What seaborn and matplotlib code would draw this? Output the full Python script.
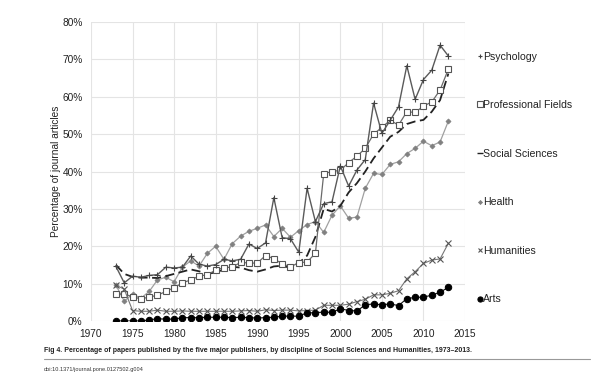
import numpy as np
import pandas as pd
import matplotlib
matplotlib.use("Agg")
import matplotlib.pyplot as plt
import seaborn as sns
from matplotlib.lines import Line2D
from matplotlib.ticker import PercentFormatter, MultipleLocator

sns.set_theme(style="whitegrid")
plt.rcParams["font.family"] = ["Liberation Sans", "DejaVu Sans"]

# ---------------------------------------------------------------------------
# data (% of journal articles)
# ---------------------------------------------------------------------------
years = list(range(1973, 2014))

psychology = [14.6, 10.2, 12.0, 11.7, 12.2, 12.4, 14.4, 14.2, 14.4, 17.4,
              15.2, 14.7, 15.1, 16.5, 16.1, 16.5, 20.6, 19.4, 20.9, 33.0,
              22.3, 22.0, 18.4, 35.5, 26.6, 31.4, 31.9, 41.5, 36.1, 40.4,
              43.2, 58.3, 50.2, 53.7, 57.3, 68.3, 59.3, 64.6, 67.1, 73.8,
              70.9]
professional = [7.2, 7.2, 6.5, 5.9, 6.4, 6.9, 7.9, 8.9, 10.2, 11.0,
                12.0, 12.4, 13.6, 14.3, 14.4, 15.7, 15.5, 15.5, 17.5, 16.7,
                15.3, 14.5, 15.6, 15.8, 18.1, 39.4, 40.0, 40.3, 42.4, 44.1,
                46.2, 50.0, 51.8, 53.7, 52.4, 56.0, 55.8, 57.5, 58.6, 61.8,
                67.4]
social = [15.0, 12.6, 11.8, 11.6, 11.6, 11.5, 12.0, 12.6, 13.2, 13.8,
          13.3, 12.6, 13.0, 13.8, 14.5, 14.3, 13.6, 13.2, 13.8, 14.6,
          14.8, 14.2, 15.5, 17.5, 22.5, 30.0, 29.3, 30.8, 34.4, 36.9,
          40.0, 43.5, 46.4, 49.3, 50.6, 52.7, 53.4, 53.8, 56.0, 59.1,
          66.2]
health = [9.6, 5.3, 7.2, 6.1, 7.9, 11.0, 11.7, 10.5, 14.4, 16.1,
          14.7, 18.1, 20.0, 16.5, 20.7, 22.7, 24.0, 24.8, 25.7, 22.6,
          24.8, 22.4, 24.2, 25.8, 26.6, 23.7, 28.3, 30.8, 27.5, 27.8,
          35.5, 39.5, 39.2, 41.9, 42.6, 44.8, 46.2, 48.1, 46.9, 47.9,
          53.5]
humanities = [9.6, 8.5, 2.8, 2.6, 2.6, 2.9, 2.6, 2.6, 2.7, 2.6,
              2.6, 2.6, 2.6, 2.6, 2.6, 2.7, 2.8, 2.6, 3.0, 2.8,
              2.9, 2.9, 2.7, 2.8, 2.9, 4.2, 4.2, 4.2, 4.5, 5.2,
              5.8, 7.0, 7.0, 7.4, 8.1, 11.3, 13.2, 15.4, 16.3, 16.6,
              20.8]
arts = [0.0, 0.0, 0.0, 0.0, 0.3, 0.6, 0.5, 0.5, 0.9, 0.9,
        0.9, 1.0, 1.0, 1.0, 0.9, 1.0, 0.9, 0.8, 0.9, 1.0,
        1.3, 1.3, 1.3, 2.2, 2.2, 2.4, 2.3, 3.3, 2.8, 2.7,
        4.3, 4.6, 4.3, 4.6, 4.1, 6.0, 6.3, 6.4, 6.9, 7.7,
        9.0]

disciplines = ["Psychology", "Professional Fields", "Social Sciences",
               "Health", "Humanities", "Arts"]

df = pd.DataFrame({"Year": years, "Psychology": psychology,
                   "Professional Fields": professional,
                   "Social Sciences": social, "Health": health,
                   "Humanities": humanities, "Arts": arts})

# line / marker style per discipline
styles = {
    "Psychology":          dict(color="#5a5a5a", lw=1.0, ls="-", marker="+",
                                ms=4.2, mec="#444444", mfc="#444444", mew=0.8),
    "Professional Fields": dict(color="#6a6a6a", lw=0.9, ls="-", marker="s",
                                ms=5, mec="#555555", mfc="white", mew=0.8),
    "Social Sciences":     dict(color="#222222", lw=1.3, ls=(0, (5, 2.5)), marker=None),
    "Health":              dict(color="#a0a0a0", lw=0.9, ls="-", marker="D",
                                ms=2.6, mec="#808080", mfc="#808080", mew=0.5),
    "Humanities":          dict(color="#777777", lw=0.8, ls="-", marker="x",
                                ms=4, mec="#555555", mew=0.8),
    "Arts":                dict(color="#111111", lw=0.8, ls="-", marker="o",
                                ms=4.6, mec="black", mfc="black"),
}

# ---------------------------------------------------------------------------
# plot
# ---------------------------------------------------------------------------
fig = plt.figure(figsize=(6.02, 3.84), dpi=100)
ax = fig.add_axes([91 / 602, 1 - 321 / 384, 374 / 602, 299 / 384])

for name in ["Health", "Social Sciences", "Professional Fields",
             "Psychology", "Humanities", "Arts"]:
    st = dict(styles[name])
    ls = st.pop("ls")
    sns.lineplot(data=df, x="Year", y=name, ax=ax, linestyle=ls,
                 legend=False, **st)

ax.set_xlim(1970, 2015)
ax.set_ylim(0, 80)
ax.xaxis.set_major_locator(MultipleLocator(5))
ax.yaxis.set_major_locator(MultipleLocator(10))
ax.yaxis.set_major_formatter(PercentFormatter(100, decimals=0))
ax.grid(True, color="#e4e4e4", lw=0.8)
for sp in ax.spines.values():
    sp.set_visible(False)
ax.tick_params(axis="both", length=0, labelsize=7.3, colors="#222222")
ax.tick_params(axis="x", pad=6)
ax.tick_params(axis="y", pad=6)
ax.set_xlabel("")
ax.set_ylabel("Percentage of journal articles", fontsize=7.3, color="#222222", labelpad=1)

# legend: marker + label, no line
handles = []
for name in disciplines:
    st = styles[name]
    if name == "Social Sciences":
        h = Line2D([], [], ls="none", marker="_", ms=5, mew=1.0, color="#222222")
    else:
        h = Line2D([], [], ls="none", marker=st["marker"],
                   ms=st["ms"] * 0.8, mec=st.get("mec"), mfc=st.get("mfc", st.get("mec")),
                   mew=st.get("mew", 0.8))
    handles.append(h)
ax.legend(handles, disciplines, loc="upper left", bbox_to_anchor=(1.022, 0.915),
          frameon=False, fontsize=7.6, handlelength=0.4, handletextpad=0.1,
          labelspacing=3.65, borderaxespad=0, labelcolor="#222222")

# caption
fig.text(44 / 602, 1 - 351 / 384,
         "Fig 4. Percentage of papers published by the five major publishers, "
         "by discipline of Social Sciences and Humanities, 1973\u20132013.",
         fontsize=5.0, weight="bold", va="center", ha="left", color="#222222")
fig.add_artist(Line2D([44 / 602, 590 / 602], [1 - 359 / 384, 1 - 359 / 384],
                      transform=fig.transFigure, color="#999999", lw=0.8))
fig.text(44 / 602, 1 - 369 / 384, "doi:10.1371/journal.pone.0127502.g004",
         fontsize=4.1, va="center", ha="left", color="#333333")

fig.savefig("out.png", dpi=100)
